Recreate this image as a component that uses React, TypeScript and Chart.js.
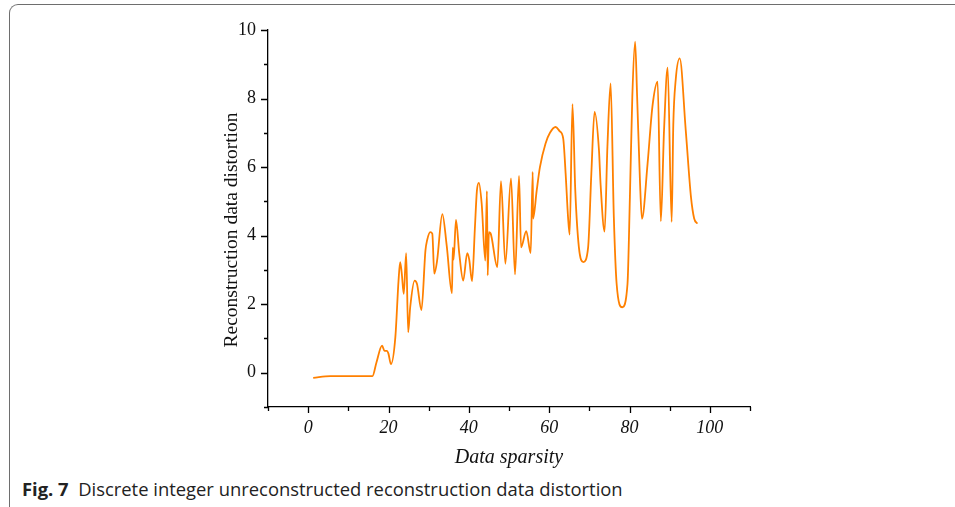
import React, { useEffect, useRef } from "react";
import { Chart, registerables } from "chart.js";

Chart.register(...registerables);

const sparsity: number[] = [
  1.25, 5.5, 10, 16.0, 17.0, 18.4, 19.0, 19.6, 20.0, 20.6, 21.7, 22.5, 22.9, 23.3, 23.8,
  24.4, 24.9, 25.4, 26.5, 27.1, 28.2, 29.2, 29.6, 30.4, 30.9, 31.4, 32.1, 33.4, 34.5,
  35.8, 36.0, 36.2, 36.8, 37.6, 38.6, 39.6, 40.1, 40.8, 41.5, 42.0, 42.5, 43.2, 44.1,
  44.5, 44.7, 45.0, 45.4, 47.1, 48.0, 49.1, 50.5, 51.5, 52.5, 53.0, 54.3, 55.4, 55.9,
  56.0, 56.9, 57.7, 59.1, 60.2, 61.6, 62.6, 63.5, 64.1, 64.7, 65.1, 65.8, 66.5, 67.4,
  68.5, 69.7, 70.5, 71.3, 72.4, 72.8, 73.8, 74.5, 75.3, 76.1, 76.8, 78.2, 79.5, 80.1,
  80.7, 81.4, 81.9, 82.6, 83.1, 84.5, 85.7, 87.0, 87.8, 88.6, 89.5, 90.5, 90.9, 91.5,
  92.5, 94.0, 95.3, 96.1, 96.9,
];

const distortion: number[] = [
  -0.15, -0.1, -0.1, -0.1, 0.3, 0.79, 0.64, 0.64, 0.55, 0.25, 1.03, 2.69, 3.23, 2.9, 2.3,
  3.49, 1.18, 1.91, 2.69, 2.59, 1.83, 3.57, 3.86, 4.1, 4.06, 2.89, 3.27, 4.63, 3.7,
  2.32, 3.65, 3.3, 4.46, 3.5, 2.69, 3.49, 3.3, 2.67, 4.2, 5.3, 5.54, 4.93, 3.27,
  5.3, 2.84, 4.1, 4.07, 3.08, 5.59, 3.18, 5.67, 2.87, 5.74, 3.66, 4.13, 3.49, 5.86,
  4.5, 5.32, 6.0, 6.69, 7.0, 7.17, 7.05, 6.83, 5.81, 4.54, 4.03, 7.84, 5.32, 3.66,
  3.23, 3.66, 5.81, 7.61, 6.49, 5.5, 4.12, 6.59, 8.44, 4.54, 2.59, 1.91, 2.59, 5.13,
  8.05, 9.66, 8.05, 5.61, 4.49, 6.1, 7.76, 8.49, 4.42, 7.08, 8.9, 4.4, 7.22, 8.54,
  9.17, 7.08, 5.13, 4.5, 4.35,
];

const xTickValues: number[] = [-10, 0, 10, 20, 30, 40, 50, 60, 70, 80, 90, 100, 110];
const xTickLabels: number[] = [0, 20, 40, 60, 80, 100];
const yTickValues: number[] = [-1, 0, 1, 2, 3, 4, 5, 6, 7, 8, 9, 10];
const yTickLabels: number[] = [0, 2, 4, 6, 8, 10];
const yTitle = "Reconstruction data distortion";

const tickPlugin = {
  id: "minorMajorTicks",
  afterDraw(chart: any) {
    const { ctx } = chart;
    const xs = chart.scales.x;
    const ys = chart.scales.y;
    ctx.save();
    ctx.strokeStyle = "#000";
    ctx.lineWidth = 1.3;
    ctx.beginPath();
    for (const v of xTickValues) {
      const px = Math.round(xs.getPixelForValue(v)) + 0.5;
      const len = xTickLabels.includes(v) ? 6 : 4;
      ctx.moveTo(px, ys.bottom);
      ctx.lineTo(px, ys.bottom + len);
    }
    for (const v of yTickValues) {
      const py = Math.round(ys.getPixelForValue(v)) + 0.5;
      const len = yTickLabels.includes(v) ? 7 : 4;
      ctx.moveTo(xs.left, py);
      ctx.lineTo(xs.left - len, py);
    }
    ctx.stroke();
    // y axis title
    ctx.translate(232, 230);
    ctx.rotate(-Math.PI / 2);
    ctx.fillStyle = "#111";
    ctx.font = "19.5px 'Liberation Serif'";
    ctx.textAlign = "center";
    ctx.textBaseline = "middle";
    ctx.fillText(yTitle, 0, 0);
    ctx.restore();
  },
};

export default function App() {
  const ref = useRef<HTMLCanvasElement | null>(null);

  useEffect(() => {
    if (!ref.current) return;
    const chart = new Chart(ref.current, {
      type: "line",
      data: {
        datasets: [
          {
            label: "Distortion",
            data: sparsity.map((x, i) => ({ x, y: distortion[i] })),
            borderColor: "#ff8000",
            borderWidth: 1.8,
            pointRadius: 0,
            fill: false,
            cubicInterpolationMode: "monotone",
          },
        ],
      },
      options: {
        animation: false,
        responsive: false,
        devicePixelRatio: 1,
        layout: { padding: { left: 200, right: 205, top: 30, bottom: 0 } },
        plugins: { legend: { display: false }, tooltip: { enabled: false } },
        scales: {
          x: {
            type: "linear",
            min: -10,
            max: 110,
            afterFit: (s: any) => {
              s.height = 67;
            },
            afterBuildTicks: (s: any) => {
              s.ticks = xTickLabels.map((v) => ({ value: v }));
            },
            grid: { display: false },
            border: { display: true, color: "#000", width: 1.3 },
            ticks: {
              padding: 2,
              color: "#111",
              font: { family: "Liberation Serif", size: 18, style: "italic" },
              maxRotation: 0,
            },
            title: {
              display: true,
              text: "Data sparsity",
              color: "#111",
              font: { family: "Liberation Serif", size: 20, style: "italic" },
              padding: { top: 0, bottom: 4 },
            },
          },
          y: {
            type: "linear",
            min: -1,
            max: 10,
            afterFit: (s: any) => {
              s.width = 68;
            },
            afterBuildTicks: (s: any) => {
              s.ticks = yTickLabels.map((v) => ({ value: v }));
            },
            grid: { display: false },
            border: { display: true, color: "#000", width: 1.3 },
            ticks: {
              padding: 4,
              color: "#111",
              font: { family: "Liberation Serif", size: 18 },
            },
            title: { display: false, text: yTitle },
          },
        },
      },
      plugins: [tickPlugin],
    });
    return () => chart.destroy();
  }, []);

  return (
    <div
      style={{
        position: "fixed",
        left: 0,
        top: 0,
        width: 955,
        height: 507,
        overflow: "hidden",
        background: "#fff",
      }}
    >
      <div
        style={{
          position: "absolute",
          left: 9,
          top: 4,
          width: 980,
          height: 540,
          borderTop: "1.5px solid #6e6e6e",
          borderLeft: "1.5px solid #6e6e6e",
          borderTopLeftRadius: 9,
        }}
      />
      <canvas
        ref={ref}
        width={955}
        height={474}
        style={{ position: "absolute", left: 0, top: 0, width: 955, height: 474 }}
      />
      <div
        style={{
          position: "absolute",
          left: 22,
          top: 476,
          fontFamily: "'Open Sans', 'Noto Sans', sans-serif",
          fontSize: 18.4,
          color: "#222",
          whiteSpace: "nowrap",
        }}
      >
        <b>Fig. 7</b>&nbsp; Discrete integer unreconstructed reconstruction data distortion
      </div>
    </div>
  );
}
